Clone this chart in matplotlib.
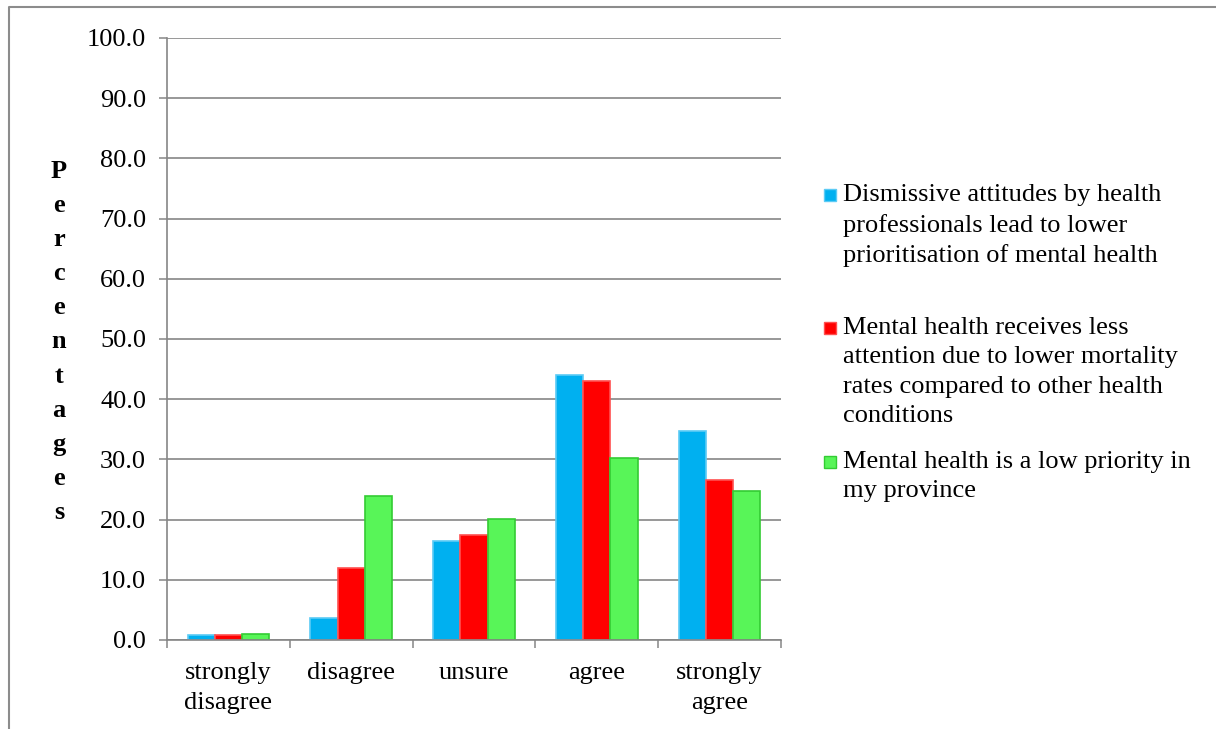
import matplotlib.pyplot as plt
import numpy as np
from matplotlib.patches import Rectangle
from matplotlib.lines import Line2D

plt.rcParams['font.family'] = ['Liberation Serif', 'DejaVu Serif']

categories = ['strongly\ndisagree', 'disagree', 'unsure', 'agree', 'strongly\nagree']
series_names = [
    'Dismissive attitudes by health\nprofessionals lead to lower\nprioritisation of mental health',
    'Mental health receives less\nattention due to lower mortality\nrates compared to other health\nconditions',
    'Mental health is a low priority in\nmy province',
]
dismissive = [0.8, 3.6, 16.5, 44.1, 34.8]
mortality = [0.8, 11.9, 17.5, 43.1, 26.5]
low_priority = [1.0, 23.9, 20.1, 30.2, 24.8]

colors = ['#00B0F0', '#FF0000', '#58F558']
edges = ['#5CCBF5', '#FF5050', '#33CC33']

W, H = 1216, 729
fig = plt.figure(figsize=(W / 100, H / 100), dpi=100)
ax = fig.add_axes([167 / W, 1 - 640 / H, 614 / W, 602 / H])

x = np.arange(len(categories))
bw = 0.222
for i, vals in enumerate([dismissive, mortality, low_priority]):
    ax.bar(x + (i - 1) * bw, vals, width=bw, color=colors[i], edgecolor=edges[i],
           linewidth=1.2, zorder=3)

ax.set_xlim(-0.5, len(categories) - 0.5)
ax.set_ylim(0, 100)
ax.set_yticks(np.arange(0, 101, 10))
ax.set_yticklabels([f'{v:.1f}' for v in np.arange(0, 101, 10)], fontsize=19)
ax.set_xticks(x)
ax.set_xticklabels(categories, fontsize=19, linespacing=1.48)
ax.set_xticks(np.arange(-0.5, len(categories)), minor=True)
ax.tick_params(axis='x', which='major', length=0, pad=16)
ax.tick_params(axis='x', which='minor', length=6, width=1.1, color='#868686', direction='out')
ax.tick_params(axis='y', length=6, width=1.1, color='#868686', pad=9)
ax.grid(axis='y', color='#868686', linewidth=1.2, zorder=0)
for s in ['top', 'right']:
    ax.spines[s].set_visible(False)
for s in ['left', 'bottom']:
    ax.spines[s].set_color('#868686')
    ax.spines[s].set_linewidth(1.2)
    ax.spines[s].set_zorder(4)

# vertical stacked axis title
fig.text(59 / W, 1 - 342 / H, '\n'.join('Percentages'), fontsize=19, fontweight='bold',
         ha='center', va='center', linespacing=1.62)

# legend drawn by hand, top-aligned like the original
tops = [184, 317, 451]
for i, name in enumerate(series_names):
    y0 = tops[i]
    fig.add_artist(Rectangle((824 / W, 1 - (y0 + 17) / H), 12 / W, 12 / H,
                             transform=fig.transFigure, facecolor=colors[i],
                             edgecolor=edges[i], linewidth=1))
    fig.text(843 / W, 1 - y0 / H, name, fontsize=19, ha='left', va='top', linespacing=1.43)

# outer frame
fig.add_artist(Line2D([9 / W, 9 / W, 1], [0, 1 - 7 / H, 1 - 7 / H],
                      transform=fig.transFigure, color='#8c8c8c', linewidth=1.5))

fig.savefig('out.png', dpi=100)
